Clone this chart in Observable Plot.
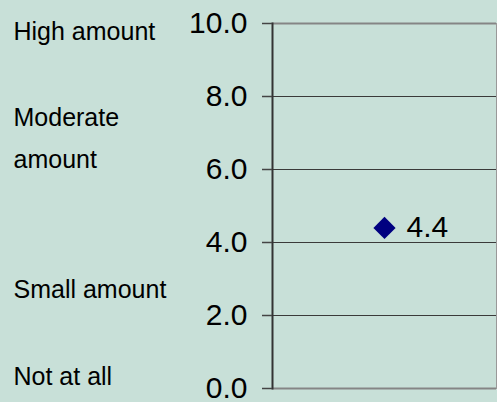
<!DOCTYPE html>
<html>
<head>
<meta charset="utf-8">
<script src="https://cdn.jsdelivr.net/npm/d3@7"></script>
<script src="https://cdn.jsdelivr.net/npm/@observablehq/plot@0.6"></script>
<style>
  html, body { margin: 0; padding: 0; background: #c8e0d8; }
  #chart svg { display: block; }
</style>
</head>
<body>
<div id="chart"></div>
<script>
// Data
const categories = ["Score"];
const scores = [4.4];
const yTicks = [0, 2, 4, 6, 8, 10];
const gridValues = [2, 4, 6, 8];
const levelLabels = ["Not at all", "Small amount", "Moderate\namount", "High amount"];
const levelValues = [0.47, 2.85, 6.98, 9.93];

const points = categories.map((c, i) => ({category: c, value: scores[i]}));
const levels = levelLabels.map((l, i) => ({label: l, value: levelValues[i]}));

const chart = Plot.plot({
  width: 497,
  height: 402,
  marginLeft: 272,
  marginRight: 1,
  marginTop: 23,
  marginBottom: 14,
  style: {background: "#c8e0d8", fontFamily: "'Liberation Sans', Arial, sans-serif", color: "#000"},
  x: {type: "point", domain: categories, axis: null},
  y: {domain: [0, 10], axis: null},
  marks: [
    Plot.ruleY(gridValues, {stroke: "#3a3a3a", strokeWidth: 1}),
    Plot.frame({anchor: "right", stroke: "#999", strokeWidth: 1}),
    Plot.ruleY([10, 0], {stroke: "#858585", strokeWidth: 2}),
    Plot.frame({anchor: "left", stroke: "#333", strokeWidth: 2}),
    Plot.axisY({
      ticks: yTicks,
      tickFormat: d => d.toFixed(1),
      tickSize: 10,
      tickPadding: 15,
      fontSize: 30,
      stroke: "#444",
      strokeWidth: 1.5,
      fill: "#000",
      label: null
    }),
    Plot.dot(points, {x: "category", y: "value", symbol: "diamond2", r: 10, fill: "#000080", stroke: "none"}),
    Plot.text(points, {x: "category", y: "value", text: d => d.value.toFixed(1), dx: 22, dy: -1, textAnchor: "start", fontSize: 30, fill: "#000"}),
    Plot.text(levels, {y: "value", text: "label", frameAnchor: "left", dx: -259, textAnchor: "start", fontSize: 25, lineHeight: 1.68, fill: "#000"})
  ]
});
document.getElementById("chart").appendChild(chart);
</script>
</body>
</html>
